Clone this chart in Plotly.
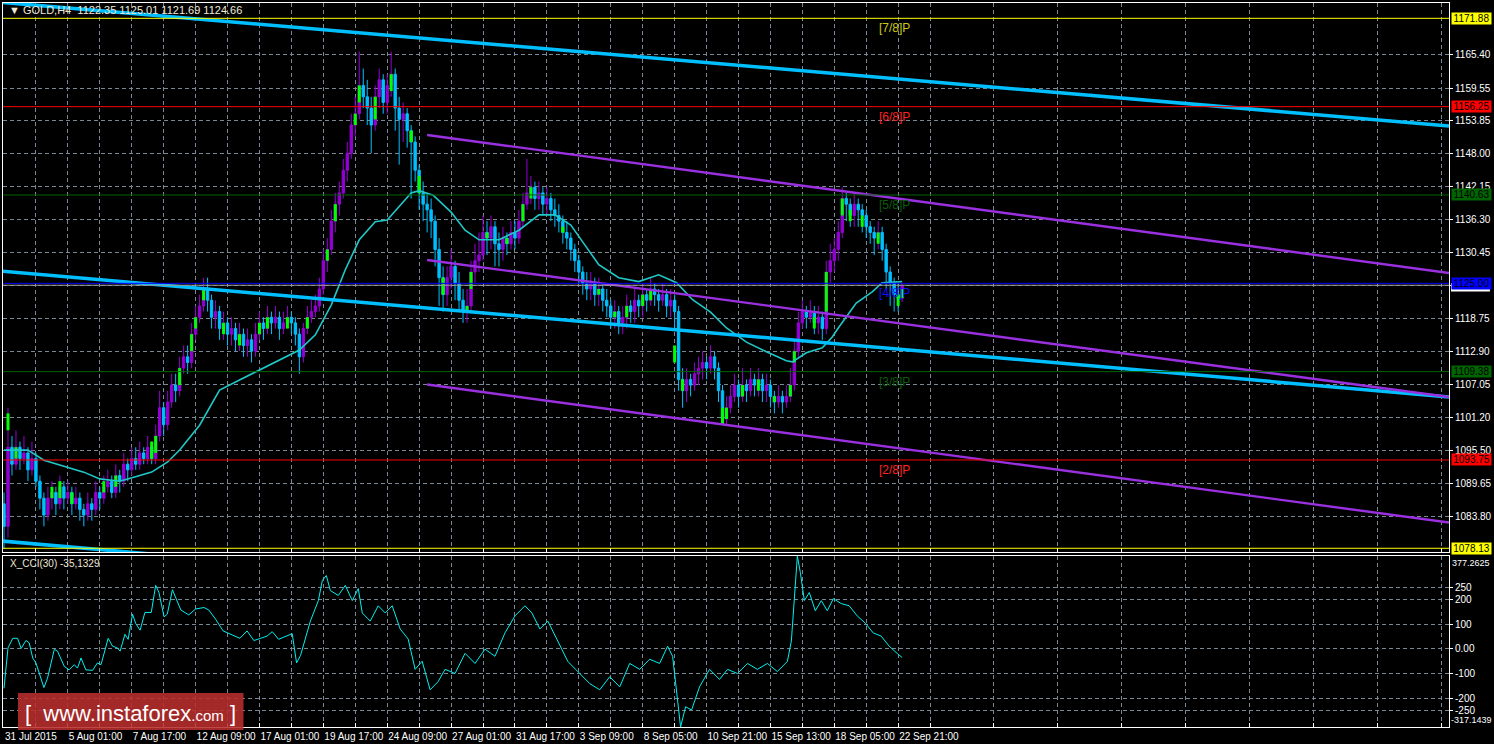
import plotly.graph_objects as go

# ---------------- DATA ----------------
close = [1082, 1096, 1093, 1096, 1094, 1095, 1092, 1094, 1090, 1087,
         1084, 1087, 1088, 1086, 1089, 1087, 1088, 1086, 1087, 1085,
         1084, 1086, 1085, 1088, 1087, 1089, 1090, 1088, 1091, 1090,
         1093, 1092, 1094, 1093, 1095, 1094, 1096, 1094, 1098, 1103,
         1100, 1104, 1107, 1106, 1110, 1112, 1111, 1116, 1119, 1121,
         1124, 1122, 1119, 1120, 1117, 1118, 1116, 1117, 1115, 1116,
         1114, 1115, 1113, 1116, 1118, 1117, 1119, 1118, 1119, 1117,
         1118, 1119, 1118, 1116, 1112, 1117, 1119, 1120, 1121, 1124,
         1129, 1131, 1136, 1139, 1141, 1145, 1148, 1153, 1155, 1160,
         1158, 1156, 1153, 1158, 1161, 1157, 1160, 1162, 1156, 1154,
         1155, 1152, 1150, 1145, 1141, 1139, 1138, 1136, 1131, 1126,
         1123, 1126, 1128, 1125, 1122, 1120, 1121, 1127, 1129, 1130,
         1134, 1133, 1135, 1132, 1131, 1133, 1132, 1134, 1133, 1136,
         1139, 1141, 1142, 1140, 1141, 1139, 1140, 1138, 1137, 1136,
         1134, 1133, 1131, 1129, 1127, 1125, 1124, 1125, 1123, 1124,
         1122, 1121, 1119, 1120, 1118, 1119, 1121, 1120, 1122, 1121,
         1123, 1122, 1124, 1123, 1122, 1123, 1121, 1122, 1120, 1108,
         1106, 1108, 1107, 1109, 1110, 1111, 1110, 1112, 1110, 1106,
         1101, 1103, 1105, 1107, 1105, 1107, 1106, 1108, 1107, 1108,
         1106, 1107, 1105, 1104, 1105, 1104, 1105, 1107, 1113, 1118,
         1120, 1119, 1120, 1118, 1119, 1117, 1127, 1129, 1131, 1134,
         1140, 1139, 1137, 1139, 1138, 1137, 1135, 1134, 1133, 1134,
         1131, 1127, 1125, 1123, 1122.35, 1124.66]

high = [1088, 1103, 1098, 1099, 1097, 1098, 1096, 1097, 1095, 1091,
        1088, 1089, 1090, 1089, 1091, 1090, 1090, 1089, 1089, 1088,
        1086, 1088, 1087, 1090, 1089, 1091, 1092, 1091, 1093, 1092,
        1095, 1094, 1096, 1096, 1097, 1096, 1098, 1097, 1100, 1106,
        1104, 1106, 1109, 1109, 1112, 1114, 1114, 1118, 1121, 1123,
        1126, 1126, 1123, 1122, 1121, 1120, 1119, 1119, 1118, 1118,
        1117, 1117, 1116, 1118, 1120, 1119, 1121, 1120, 1121, 1120,
        1120, 1121, 1120, 1119, 1117, 1118, 1121, 1122, 1123, 1126,
        1131, 1133, 1138, 1141, 1143, 1147, 1150, 1155, 1158, 1166,
        1163, 1161, 1158, 1160, 1163, 1162, 1162, 1166, 1163, 1158,
        1157, 1156, 1153, 1151, 1146, 1143, 1141, 1140, 1137, 1133,
        1128, 1128, 1131, 1129, 1127, 1124, 1124, 1129, 1132, 1134,
        1137, 1136, 1137, 1136, 1134, 1135, 1134, 1136, 1136, 1138,
        1141, 1147, 1144, 1143, 1143, 1142, 1142, 1141, 1140, 1139,
        1137, 1136, 1134, 1132, 1130, 1128, 1127, 1127, 1126, 1126,
        1125, 1124, 1122, 1122, 1121, 1121, 1123, 1122, 1124, 1123,
        1125, 1124, 1126, 1125, 1124, 1125, 1124, 1124, 1123, 1121,
        1110, 1110, 1109, 1111, 1112, 1113, 1112, 1114, 1113, 1111,
        1107, 1105, 1107, 1109, 1108, 1110, 1108, 1110, 1109, 1110,
        1109, 1109, 1108, 1106, 1107, 1106, 1107, 1110, 1115, 1120,
        1122, 1121, 1122, 1121, 1121, 1120, 1129, 1132, 1133, 1136,
        1142, 1141, 1140, 1141, 1140, 1139, 1138, 1136, 1135, 1136,
        1135, 1132, 1128, 1126, 1125, 1125.01]

low = [1078, 1080, 1091, 1092, 1092, 1093, 1090, 1091, 1089, 1085,
       1082, 1083, 1085, 1084, 1085, 1085, 1086, 1084, 1085, 1083,
       1082, 1083, 1083, 1084, 1085, 1086, 1088, 1087, 1087, 1088,
       1089, 1090, 1091, 1092, 1092, 1093, 1093, 1093, 1093, 1097,
       1098, 1099, 1103, 1104, 1105, 1109, 1109, 1110, 1115, 1118,
       1120, 1120, 1117, 1117, 1115, 1115, 1114, 1114, 1113, 1113,
       1112, 1112, 1111, 1112, 1115, 1115, 1116, 1116, 1117, 1115,
       1116, 1117, 1116, 1114, 1109, 1111, 1116, 1118, 1119, 1120,
       1123, 1127, 1130, 1134, 1137, 1140, 1143, 1147, 1151, 1154,
       1156, 1153, 1148, 1152, 1156, 1155, 1155, 1158, 1152, 1146,
       1150, 1149, 1140, 1143, 1138, 1136, 1134, 1133, 1128, 1121,
       1120, 1121, 1124, 1122, 1120, 1118, 1118, 1120, 1125, 1127,
       1129, 1130, 1131, 1128, 1128, 1129, 1130, 1131, 1131, 1132,
       1135, 1138, 1139, 1138, 1138, 1137, 1137, 1136, 1135, 1134,
       1132, 1131, 1129, 1127, 1125, 1123, 1122, 1122, 1121, 1121,
       1120, 1119, 1117, 1117, 1116, 1116, 1117, 1118, 1118, 1119,
       1119, 1120, 1121, 1121, 1120, 1121, 1119, 1119, 1117, 1106,
       1103, 1104, 1105, 1106, 1107, 1108, 1108, 1109, 1108, 1104,
       1100, 1100, 1102, 1104, 1103, 1104, 1104, 1105, 1105, 1105,
       1104, 1104, 1103, 1102, 1103, 1102, 1103, 1104, 1106, 1112,
       1117, 1117, 1118, 1116, 1116, 1115, 1116, 1125, 1127, 1129,
       1133, 1136, 1135, 1135, 1135, 1134, 1133, 1132, 1130, 1131,
       1129, 1124, 1121, 1120, 1120, 1121.69]

first_open = 1086
bars = list(range(len(close)))
open_ = [first_open] + close[:-1]

# lime overlay segments inside candle bodies (bar index, low, high)
green_bar = [1, 3, 12, 14, 17, 25, 28, 37, 38, 44, 47, 48, 50, 55, 59, 64, 66, 71, 76, 81,
             83, 88, 89, 93, 97, 102, 104, 110, 116, 117, 121, 126, 130, 132, 140, 149, 153,
             156, 160, 162, 168, 170, 180, 181, 185, 189, 193, 197, 198, 203, 206, 210, 212,
             215, 219, 224, 225]
green_lo = [1099, 1094, 1087, 1087, 1086, 1088, 1089, 1094, 1095, 1107, 1113, 1117, 1122, 1116,
            1114, 1116, 1117, 1117, 1117, 1129, 1136, 1153, 1157, 1154, 1159, 1150, 1141, 1123,
            1120, 1124, 1133, 1132, 1136, 1140, 1134, 1123, 1119, 1119, 1121, 1122, 1111, 1106,
            1100, 1101, 1105, 1106, 1104, 1105, 1111, 1117, 1120, 1137, 1136, 1135, 1132, 1121,
            1122.4]
green_hi = [1102, 1096, 1089, 1090, 1088, 1090, 1091, 1097, 1098, 1110, 1116, 1119, 1124, 1118,
            1116, 1118, 1119, 1119, 1119, 1131, 1139, 1155, 1160, 1158, 1162, 1152, 1144, 1126,
            1121, 1127, 1134, 1133, 1139, 1142, 1135, 1124, 1120, 1121, 1123, 1124, 1114, 1108,
            1103, 1103, 1107, 1108, 1105, 1107, 1113, 1119, 1127, 1140, 1138, 1137, 1134, 1123,
            1124]

# moving average (bar index, price)
ma_bar = [0, 6, 10, 16, 20, 24, 29, 32.5, 37, 41, 44, 49, 54, 59, 64, 69, 74, 78, 82, 85.5,
          89, 93, 96, 99, 102, 104, 107.5, 112, 115.5, 119, 124, 129, 134, 138, 142, 145.5,
          149, 154, 159, 164, 168.5, 172.5, 177, 181, 186, 191, 196, 197.5, 201, 205, 207.5,
          209, 213.5, 217.5, 220, 225]
ma_val = [1095.5, 1095.5, 1093.7, 1092.5, 1091.6, 1090.4, 1090.0, 1090.7, 1091.6, 1093.4,
          1095.5, 1099.9, 1106.1, 1107.9, 1109.7, 1111.4, 1113.2, 1115.9, 1121.2, 1127.4,
          1132.7, 1135.9, 1136.2, 1138.6, 1141.0, 1141.4, 1140.6, 1137.6, 1134.4, 1132.7,
          1132.7, 1134.4, 1137.1, 1137.1, 1135.3, 1131.8, 1128.3, 1126.0, 1125.3, 1126.5,
          1125.1, 1122.1, 1119.9, 1117.1, 1114.6, 1112.9, 1111.3, 1111.1, 1112.7, 1113.6,
          1115.5, 1117.1, 1121.5, 1123.5, 1125.1, 1125.3]

# CCI(30) (bar index, value)
cci_bar = [0, 1, 2.2, 3.4, 4.3, 5.5, 6.3, 7.2, 8, 10, 10.9, 12.6, 13.4, 15.1, 16.3, 17.6, 18.4,
           19.3, 20.5, 22.2, 23.4, 24.3, 26.1, 27.2, 28.4, 29.1, 30.3, 31.1, 32.2, 33, 34.1,
           35.3, 36.9, 38, 38.8, 40.1, 40.9, 42.2, 44.3, 46.3, 48, 50.1, 51.3, 53, 54.9, 56.8,
           59.1, 60.9, 62.6, 64.3, 65.9, 67.2, 68.8, 72.2, 73.3, 74.3, 76.75, 78.75, 79.75,
           80.75, 81.75, 83.75, 85.5, 87.25, 88.75, 89.75, 91.75, 93.75, 95.5, 97.25, 99.25,
           101.25, 103, 104.75, 106.75, 108.75, 110.5, 113, 115.5, 118, 120.5, 123, 125.5, 128,
           130.5, 132.25, 134.25, 136.25, 138.75, 141.25, 143.75, 146.75, 149.25, 151.75,
           154.25, 156.75, 159.25, 161.75, 164.25, 166.25, 167.5, 168.5, 169.5, 170.75, 172.25,
           174.25, 176.75, 179.25, 181.25, 183.75, 186.25, 188.75, 191.25, 193.75, 196.25,
           197.25, 198, 198.75, 199.5, 200.5, 201.75, 203.25, 204.75, 206.25, 207.75, 209.75,
           211.75, 213.75, 215.75, 217.75, 219.75, 221.75, 223.75, 225]
cci_val = [-160, 4, 43, 43, 2, 34, 25, -37, -57, -157, -119, -2, -9, -71, -85, -64, -78,
           -37, -85, -87, -57, -64, 43, 11, 4, -9, 59, 39, 141, 103, 76,
           148, 148, 258, 230, 130, 141, 240, 158, 138, 162, 168, 158, 121, 73, 59,
           43, 73, 34, 43, 52, 70, 39, 62, -57, -26, 113, 196, 278,
           298, 237, 217, 258, 196, 245, 146, 113, 175, 146, 175, 81,
           40, -83, -50, -166, -133, -83, -100, -18, -59, -1, -30, 65, 134,
           175, 146, 81, 113, 32, -51, -92, -141, -166, -113,
           -154, -59, -83, -42, -59, 11, -30, -174, -317, -235, -248,
           -154, -83, -124, -83, -100, -59, -83, -59, -92, -51,
           32, 196, 377, 310, 196, 229, 155, 196, 155, 204, 184,
           175, 134, 105, 65, 52, 11, -18, -35]

# trend channels (bar index, price) endpoints
blue_ch_bar = [-1, 362]
blue_ch_upper = [1174.74, 1152.83]
blue_ch_mid = [1127.20, 1104.89]
blue_ch_lower = [1079.44, 1057.13]
purple_ch_bar = [106, 362]
purple_ch_upper = [1151.24, 1126.83]
purple_ch_mid = [1129.13, 1104.89]
purple_ch_lower = [1107.09, 1082.68]

# Murray levels
murray_vals = [1171.88, 1156.25, 1140.63, 1125.00, 1109.38, 1093.75, 1078.13]
murray_names = ["[7/8]P", "[6/8]P", "[5/8]P", "[4/8]P", "[3/8]P", "[2/8]P", "[1/8]P"]
murray_line_colors = ["#ffff00", "#ff0000", "#006400", "#0000ff", "#006400", "#ff0000", "#ffff00"]
murray_text_colors = ["#c8c818", "#ff2020", "#0c5c0c", "#1010ff", "#0c5c0c", "#ff2020", "#c8c818"]
murray_box_colors = ["#ffff00", "#ff0000", "#006400", "#0000ff", "#006400", "#ff0000", "#ffff00"]
last_price = 1124.66

price_ticks = [1165.40, 1159.55, 1153.85, 1148.00, 1142.15, 1136.30, 1130.45, 1124.60,
               1118.75, 1112.90, 1107.05, 1101.20, 1095.50, 1089.65, 1083.80]
price_tick_text = ["1165.40", "1159.55", "1153.85", "1148.00", "1142.15", "1136.30", "1130.45", "",
                   "1118.75", "1112.90", "1107.05", "1101.20", "1095.50", "1089.65", "1083.80"]
cci_ticks = [250, 200, 100, 0, -100, -200, -250]
cci_tick_text = ["250", "200", "100", "0.00", "-100", "-200", "-250"]
cci_max, cci_min = 377.2625, -317.1439

date_tick_bars = [0, 16, 32, 48, 64, 80, 96, 112, 128, 144, 160, 176, 192, 208, 224]
date_tick_text = ["31 Jul 2015", "5 Aug 01:00", "7 Aug 17:00", "12 Aug 09:00", "17 Aug 01:00",
                  "19 Aug 17:00", "24 Aug 09:00", "27 Aug 01:00", "31 Aug 17:00", "3 Sep 09:00",
                  "8 Sep 05:00", "10 Sep 21:00", "15 Sep 13:00", "18 Sep 05:00", "22 Sep 21:00"]

header = "GOLD,H4  1122.35 1125.01 1121.69 1124.66"
cci_label = "X_CCI(30) -35,1329"

# ---------------- STYLE ----------------
PURPLE = "#9400D3"
CYAN = "#00BFFF"
LIME = "#00ff00"
GRID = "#7a8896"
FONT = "Liberation Sans"
W, H = 1494, 744
ML, MR, MT, MB = 2, 43, 3, 17
X_RANGE = [-0.25, 362]
Y_RANGE = [1077.47, 1174.59]

fig = go.Figure()

fig.add_trace(go.Candlestick(
    x=bars, open=open_, high=high, low=low, close=close,
    xaxis="x", yaxis="y",
    increasing=dict(line=dict(color=PURPLE, width=1), fillcolor=PURPLE),
    decreasing=dict(line=dict(color=CYAN, width=1), fillcolor=CYAN),
    whiskerwidth=0, showlegend=False, hoverinfo="skip"))

# lime segments as short thick vertical strokes
gx, gy = [], []
for b, lo, hi in zip(green_bar, green_lo, green_hi):
    gx += [b, b, None]
    gy += [lo, hi, None]
fig.add_trace(go.Scatter(x=gx, y=gy, mode="lines", xaxis="x", yaxis="y",
                         line=dict(color=LIME, width=3), showlegend=False, hoverinfo="skip"))

fig.add_trace(go.Scatter(x=ma_bar, y=ma_val, mode="lines", xaxis="x", yaxis="y",
                         line=dict(color="#20c8c8", width=1.6), showlegend=False, hoverinfo="skip"))

for yy in (blue_ch_upper, blue_ch_mid, blue_ch_lower):
    fig.add_trace(go.Scatter(x=blue_ch_bar, y=yy, mode="lines", xaxis="x", yaxis="y",
                             line=dict(color=CYAN, width=3.5), showlegend=False, hoverinfo="skip"))
for yy in (purple_ch_upper, purple_ch_mid, purple_ch_lower):
    fig.add_trace(go.Scatter(x=purple_ch_bar, y=yy, mode="lines", xaxis="x", yaxis="y",
                             line=dict(color="#9a30e0", width=2.4), showlegend=False, hoverinfo="skip"))

fig.add_trace(go.Scatter(x=cci_bar, y=cci_val, mode="lines", xaxis="x2", yaxis="y2",
                         line=dict(color="#00f0f0", width=1), showlegend=False, hoverinfo="skip"))

pw = W - ML - MR
ph = H - MT - MB
def px(x):
    return (x - ML) / pw
def py(y):
    return (H - MB - y) / ph

shapes = []
for v, c in zip(murray_vals, murray_line_colors):
    shapes.append(dict(type="line", xref="x domain", yref="y", x0=0, x1=1, y0=v, y1=v,
                       line=dict(color=c, width=1), layer="above"))
shapes.append(dict(type="line", xref="x domain", yref="y", x0=0, x1=1, y0=last_price, y1=last_price,
                   line=dict(color="#9a9a9a", width=1), layer="above"))
shapes.append(dict(type="rect", xref="paper", yref="y", x0=px(1453), x1=px(1492),
                   y0=last_price - 1.1, y1=last_price + 0.4, fillcolor="#ffffff",
                   line=dict(width=0), layer="above"))
shapes.append(dict(type="rect", xref="paper", yref="paper", x0=px(17), x1=px(243), y0=py(730), y1=py(693),
                   fillcolor="rgba(185,45,45,0.88)", line=dict(width=0), layer="above"))

annotations = []
for v, n, c in zip(murray_vals[:-1], murray_names[:-1], murray_text_colors[:-1]):
    annotations.append(dict(x=223, y=v, xref="x", yref="y", text=n, showarrow=False,
                            xanchor="center", yanchor="top", yshift=-1,
                            font=dict(family=FONT, size=12, color=c)))
for v, c in zip(murray_vals, murray_box_colors):
    annotations.append(dict(x=1, y=v, xref="paper", yref="y", text=f"{v:.2f}", showarrow=False,
                            xanchor="left", yanchor="middle", xshift=2, width=39, height=11,
                            bgcolor=c, borderpad=0,
                            font=dict(family=FONT, size=10, color="#000000")))
annotations.append(dict(x=1, y=cci_max, xref="paper", yref="y2", text=f"{cci_max:.4f}", showarrow=False,
                        xanchor="left", yanchor="top", xshift=1,
                        font=dict(family=FONT, size=9, color="#ffffff")))
annotations.append(dict(x=1, y=cci_min, xref="paper", yref="y2", text=f"{cci_min:.4f}", showarrow=False,
                        xanchor="left", yanchor="bottom", xshift=0,
                        font=dict(family=FONT, size=9, color="#ffffff")))
annotations.append(dict(x=px(6), y=py(10), xref="paper", yref="paper", text="\u25BC " + header,
                        showarrow=False, xanchor="left", yanchor="middle",
                        font=dict(family=FONT, size=11, color="#f0e8d8")))
annotations.append(dict(x=px(7), y=py(563), xref="paper", yref="paper", text=cci_label,
                        showarrow=False, xanchor="left", yanchor="middle",
                        font=dict(family=FONT, size=10, color="#f0e8d8")))
annotations.append(dict(x=px(130), y=py(713), xref="paper", yref="paper",
                        text="[  www.instaforex<span style='font-size:15px'>.com</span> ]",
                        showarrow=False, xanchor="center", yanchor="middle",
                        font=dict(family=FONT, size=22, color="#ffffff")))

xcommon = dict(range=X_RANGE, showgrid=True, gridcolor=GRID, griddash="4px,3px", gridwidth=1,
               zeroline=False, showline=True, linecolor="#ffffff", linewidth=1, mirror=True,
               tickmode="array", tickvals=date_tick_bars, tickangle=0,
               minor=dict(tick0=8, dtick=16, showgrid=True, gridcolor=GRID, griddash="4px,3px",
                          gridwidth=1, ticks="inside", ticklen=4, tickcolor="#ffffff"))

fig.update_layout(
    width=W, height=H,
    margin=dict(l=ML, r=MR, t=MT, b=MB),
    paper_bgcolor="#000000", plot_bgcolor="#000000",
    showlegend=False, boxgap=0.15,
    xaxis=dict(**xcommon, anchor="y", domain=[0, 1], showticklabels=False, ticks="",
               rangeslider=dict(visible=False)),
    xaxis2=dict(**xcommon, anchor="y2", domain=[0, 1], matches="x", ticktext=date_tick_text,
                ticks="inside", ticklen=4, tickcolor="#ffffff",
                ticklabelposition="outside right",
                tickfont=dict(family=FONT, size=10, color="#ffffff")),
    yaxis=dict(domain=[(H - MB - 552) / ph, 1], range=Y_RANGE, side="right",
               tickmode="array", tickvals=price_ticks, ticktext=price_tick_text,
               showgrid=True, gridcolor=GRID, griddash="4px,3px", zeroline=False,
               showline=True, linecolor="#ffffff", mirror=True,
               ticks="outside", ticklen=3, tickcolor="#ffffff",
               tickfont=dict(family=FONT, size=10, color="#ffffff")),
    yaxis2=dict(domain=[0, (H - MB - 556) / ph], range=[cci_min, cci_max], side="right",
                tickmode="array", tickvals=cci_ticks, ticktext=cci_tick_text,
                showgrid=True, gridcolor=GRID, griddash="4px,3px", zeroline=False,
                showline=True, linecolor="#ffffff", mirror=True,
                ticks="outside", ticklen=3, tickcolor="#ffffff",
                tickfont=dict(family=FONT, size=10, color="#ffffff")),
    shapes=shapes,
    annotations=annotations,
)

fig.write_html("out.html", config={"displayModeBar": False},
               post_script="document.body.style.margin='0';document.body.style.overflow='hidden';")
